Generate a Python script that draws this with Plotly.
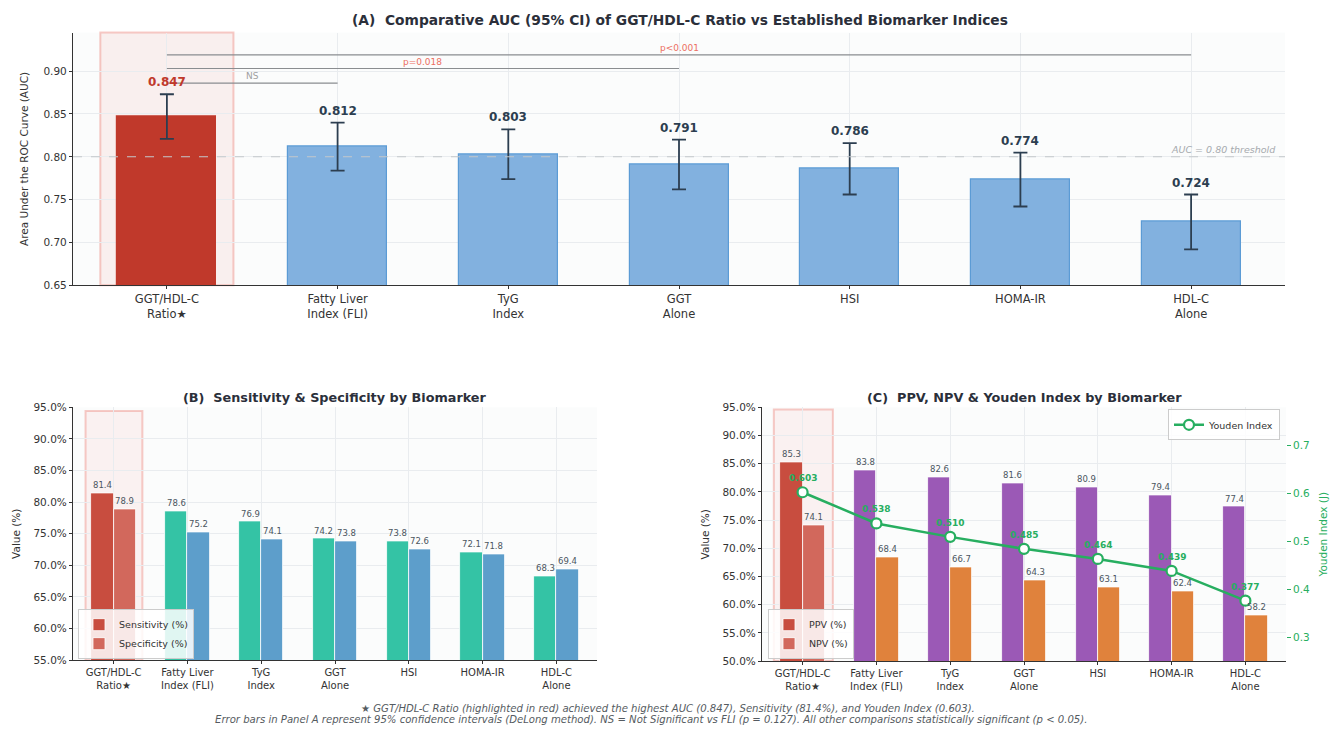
import plotly.graph_objects as go

# ---- data -------------------------------------------------------------
categories = ["GGT/HDL-C<br>Ratio★", "Fatty Liver<br>Index (FLI)", "TyG<br>Index",
              "GGT<br>Alone", "HSI", "HOMA-IR", "HDL-C<br>Alone"]
auc = [0.847, 0.812, 0.803, 0.791, 0.786, 0.774, 0.724]
auc_ci_low = [0.821, 0.784, 0.774, 0.762, 0.756, 0.742, 0.692]
auc_ci_high = [0.873, 0.840, 0.832, 0.820, 0.816, 0.805, 0.756]
sensitivity = [81.4, 78.6, 76.9, 74.2, 73.8, 72.1, 68.3]
specificity = [78.9, 75.2, 74.1, 73.8, 72.6, 71.8, 69.4]
ppv = [85.3, 83.8, 82.6, 81.6, 80.9, 79.4, 77.4]
npv = [74.1, 68.4, 66.7, 64.3, 63.1, 62.4, 58.2]
youden = [0.603, 0.538, 0.510, 0.485, 0.464, 0.439, 0.377]
# (from index, to index, bracket height, label)
comparisons = [(0, 1, 0.886, "NS"), (0, 3, 0.903, "p=0.018"), (0, 6, 0.919, "p<0.001")]
auc_threshold = 0.80
pct_ticks_b = [55, 60, 65, 70, 75, 80, 85, 90, 95]
pct_ticks_c = [50, 55, 60, 65, 70, 75, 80, 85, 90, 95]
auc_ticks = [0.65, 0.70, 0.75, 0.80, 0.85, 0.90]
youden_ticks = [0.3, 0.4, 0.5, 0.6, 0.7]

# ---- styling -----------------------------------------------------------
FONT = "DejaVu Sans"
RED = "#c0392b"
NAVY = "#2c3e50"
GREEN = "#27ae60"
GRID = "#e9ecef"
PLOT_BG = "#fbfcfc"
x = list(range(len(categories)))
n = len(categories)


def first_highlight(base, first):
    return [first] + [base] * (n - 1)


fig = go.Figure()

# ---- Panel A: AUC bars with 95% CI -----------------------------------
fig.add_trace(go.Bar(
    x=x, y=auc, xaxis="x", yaxis="y", width=0.58, offset=-0.29,
    marker=dict(color=first_highlight("#82b1df", RED),
                line=dict(color=first_highlight("#5b9bd5", RED), width=1.2)),
    error_y=dict(type="data", symmetric=False,
                 array=[h - a for h, a in zip(auc_ci_high, auc)],
                 arrayminus=[a - l for a, l in zip(auc, auc_ci_low)],
                 color=NAVY, thickness=1.8, width=7),
    showlegend=False, hoverinfo="skip"))

# ---- Panel B: sensitivity & specificity --------------------------------
fig.add_trace(go.Bar(
    x=x, y=sensitivity, xaxis="x2", yaxis="y3", width=0.3, offset=-0.3,
    name="Sensitivity (%)", legend="legend",
    marker=dict(color=first_highlight("#34c3a5", "#c84d3f"), line=dict(color="white", width=0.8))))
fig.add_trace(go.Bar(
    x=x, y=specificity, xaxis="x2", yaxis="y3", width=0.3, offset=0.0,
    name="Specificity (%)", legend="legend",
    marker=dict(color=first_highlight("#5d9ecb", "#d2685c"), line=dict(color="white", width=0.8))))

# ---- Panel C: PPV, NPV and Youden index --------------------------------
fig.add_trace(go.Bar(
    x=x, y=ppv, xaxis="x3", yaxis="y4", width=0.3, offset=-0.3,
    name="PPV (%)", legend="legend2",
    marker=dict(color=first_highlight("#9b59b6", "#c84d3f"), line=dict(color="white", width=0.8))))
fig.add_trace(go.Bar(
    x=x, y=npv, xaxis="x3", yaxis="y4", width=0.3, offset=0.0,
    name="NPV (%)", legend="legend2",
    marker=dict(color=first_highlight("#e0823c", "#d2685c"), line=dict(color="white", width=0.8))))
fig.add_trace(go.Scatter(
    x=x, y=youden, xaxis="x3", yaxis="y5", mode="lines+markers",
    name="Youden Index", legend="legend3",
    line=dict(color=GREEN, width=2.5),
    marker=dict(size=10, color="white", line=dict(color=GREEN, width=2.2))))

annotations = []
shapes = []

# highlight boxes behind the first category
shapes.append(dict(type="rect", xref="x", yref="y domain", x0=-0.39, x1=0.39, y0=0, y1=1,
                   fillcolor="rgba(231,76,60,0.07)", line=dict(color="rgba(231,76,60,0.28)", width=2),
                   layer="below"))
shapes.append(dict(type="rect", xref="x2", yref="y3", x0=-0.38, x1=0.39, y0=55, y1=94.4,
                   fillcolor="rgba(231,76,60,0.06)", line=dict(color="rgba(231,76,60,0.28)", width=2),
                   layer="below"))
shapes.append(dict(type="rect", xref="x3", yref="y4", x0=-0.39, x1=0.41, y0=50, y1=94.6,
                   fillcolor="rgba(231,76,60,0.06)", line=dict(color="rgba(231,76,60,0.28)", width=2),
                   layer="below"))

# AUC threshold
shapes.append(dict(type="line", xref="x domain", yref="y", x0=0, x1=1,
                   y0=auc_threshold, y1=auc_threshold,
                   line=dict(color="#c4c8cc", width=1.1, dash="dash")))
annotations.append(dict(xref="x domain", yref="y", x=0.994, y=auc_threshold,
                        text="<i>AUC = 0.80 threshold</i>", showarrow=False,
                        xanchor="right", yanchor="bottom", yshift=0,
                        font=dict(family=FONT, size=9.5, color="#a6aaae")))

# significance brackets
for i0, i1, level, label in comparisons:
    shapes.append(dict(type="line", xref="x", yref="y", x0=i0, x1=i1, y0=level, y1=level,
                       line=dict(color="#8a8d90", width=1.1)))
    annotations.append(dict(xref="x", yref="y", x=(i0 + i1) / 2, y=level, text=label,
                            showarrow=False, yanchor="bottom", yshift=0,
                            font=dict(family=FONT, size=9,
                                      color="#a0a0a0" if label == "NS" else "#ec6f62")))

# AUC value labels
for i, (a, hi) in enumerate(zip(auc, auc_ci_high)):
    annotations.append(dict(xref="x", yref="y", x=i, y=hi, text=f"<b>{a:.3f}</b>",
                            showarrow=False, yanchor="bottom", yshift=3,
                            font=dict(family=FONT, size=12, color=RED if i == 0 else NAVY)))

# bar value labels in panels B and C
small = dict(family=FONT, size=8.5, color="#4a5560")
for i in x:
    annotations.append(dict(xref="x2", yref="y3", x=i - 0.15, y=sensitivity[i], text=f"{sensitivity[i]:.1f}",
                            showarrow=False, yanchor="bottom", yshift=1, font=small))
    annotations.append(dict(xref="x2", yref="y3", x=i + 0.15, y=specificity[i], text=f"{specificity[i]:.1f}",
                            showarrow=False, yanchor="bottom", yshift=1, font=small))
    annotations.append(dict(xref="x3", yref="y4", x=i - 0.15, y=ppv[i], text=f"{ppv[i]:.1f}",
                            showarrow=False, yanchor="bottom", yshift=1, font=small))
    annotations.append(dict(xref="x3", yref="y4", x=i + 0.15, y=npv[i], text=f"{npv[i]:.1f}",
                            showarrow=False, yanchor="bottom", yshift=1, font=small))
    annotations.append(dict(xref="x3", yref="y5", x=i, y=youden[i], text=f"<b>{youden[i]:.3f}</b>",
                            showarrow=False, yanchor="bottom", yshift=7,
                            font=dict(family=FONT, size=9, color=GREEN)))

# panel titles
title_color = "#2b2f3a"
annotations.append(dict(xref="paper", yref="paper", x=680 / 1338, y=1 - 14 / 734, xanchor="center",
                        text="<b>(A)  Comparative AUC (95% CI) of GGT/HDL-C Ratio vs Established Biomarker Indices</b>",
                        showarrow=False, yanchor="middle", font=dict(family=FONT, size=13.8, color=title_color)))
annotations.append(dict(xref="paper", yref="paper", x=335 / 1338, y=1 - 398 / 734, xanchor="center",
                        text="<b>(B)  Sensitivity & Specificity by Biomarker</b>",
                        showarrow=False, yanchor="middle", font=dict(family=FONT, size=12.8, color=title_color)))
annotations.append(dict(xref="paper", yref="paper", x=1024 / 1338, y=1 - 398 / 734, xanchor="center",
                        text="<b>(C)  PPV, NPV & Youden Index by Biomarker</b>",
                        showarrow=False, yanchor="middle", font=dict(family=FONT, size=12.8, color=title_color)))

# footnotes
foot = dict(family=FONT, size=10.1, color="#555b61")
annotations.append(dict(xref="paper", yref="paper", x=668 / 1338, y=1 - 714 / 734, xanchor="center",
                        text="<i>★ GGT/HDL-C Ratio (highlighted in red) achieved the highest AUC (0.847), "
                             "Sensitivity (81.4%), and Youden Index (0.603).</i>",
                        showarrow=False, yanchor="middle", font=foot))
annotations.append(dict(xref="paper", yref="paper", x=651 / 1338, y=1 - 725 / 734, xanchor="center",
                        text="<i>Error bars in Panel A represent 95% confidence intervals (DeLong method). "
                             "NS = Not Significant vs FLI (p = 0.127). All other comparisons statistically "
                             "significant (p < 0.05).</i>",
                        showarrow=False, yanchor="middle", font=foot))

tick_font = dict(family=FONT, size=10.5, color="#333")
cat_axis = dict(tickmode="array", tickvals=x, ticktext=categories, range=[-0.55, 6.55],
                showgrid=True, gridcolor=GRID, gridwidth=1, showline=True, linecolor="#333",
                linewidth=1.2, ticks="outside", ticklen=3, tickcolor="#333", zeroline=False,
                tickfont=dict(family=FONT, size=10, color="#333"))
val_axis = dict(showgrid=True, gridcolor=GRID, gridwidth=1, showline=True, linecolor="#333",
                linewidth=1.2, ticks="outside", ticklen=3, tickcolor="#333", zeroline=False,
                tickfont=tick_font)

legend_common = dict(font=dict(family=FONT, size=9.5, color="#333"), bgcolor="rgba(255,255,255,0.85)",
                     bordercolor="#cccccc", borderwidth=1, itemwidth=30, tracegroupgap=0)

fig.update_layout(
    width=1338, height=734, margin=dict(l=0, r=0, t=0, b=0),
    paper_bgcolor="white", plot_bgcolor=PLOT_BG,
    font=dict(family=FONT, color="#333"),
    barmode="overlay", bargap=0,
    xaxis=dict(cat_axis, domain=[73 / 1338, 1285 / 1338], anchor="y",
               tickfont=dict(family=FONT, size=11.5, color="#333")),
    yaxis=dict(val_axis, domain=[1 - 284 / 734, 1 - 27 / 734], anchor="x", range=[0.65, 0.945],
               tickmode="array", tickvals=auc_ticks, ticktext=[f"{v:.2f}" for v in auc_ticks],
               title=dict(text="Area Under the ROC Curve (AUC)", font=dict(family=FONT, size=10.5, color="#333"),
                          standoff=12)),
    xaxis2=dict(cat_axis, domain=[73 / 1338, 597 / 1338], anchor="y3"),
    yaxis3=dict(val_axis, domain=[1 - 665 / 734, 1 - 408 / 734], anchor="x2", range=[55, 95],
                tickmode="array", tickvals=pct_ticks_b, ticktext=[f"{v:.1f}%" for v in pct_ticks_b],
                title=dict(text="Value (%)", font=dict(family=FONT, size=10.5, color="#333"), standoff=10)),
    xaxis3=dict(cat_axis, domain=[762 / 1338, 1286 / 1338], anchor="y4"),
    yaxis4=dict(val_axis, domain=[1 - 666 / 734, 1 - 408 / 734], anchor="x3", range=[50, 95],
                tickmode="array", tickvals=pct_ticks_c, ticktext=[f"{v:.1f}%" for v in pct_ticks_c],
                title=dict(text="Value (%)", font=dict(family=FONT, size=10.5, color="#333"), standoff=10)),
    yaxis5=dict(overlaying="y4", side="right", anchor="x3", range=[0.251, 0.78],
                tickmode="array", tickvals=youden_ticks, ticktext=[f"{v:.1f}" for v in youden_ticks],
                showgrid=False, zeroline=False, showline=False,
                ticks="outside", ticklen=4, tickcolor=GREEN,
                tickfont=dict(family=FONT, size=10.5, color=GREEN),
                title=dict(text="Youden Index (J)", font=dict(family=FONT, size=10.5, color=GREEN), standoff=10)),
    legend=dict(legend_common, x=78 / 1338, y=1 - 664 / 734, xanchor="left", yanchor="bottom"),
    legend2=dict(legend_common, x=768 / 1338, y=1 - 664 / 734, xanchor="left", yanchor="bottom"),
    legend3=dict(legend_common, x=1280 / 1338, y=1 - 410 / 734, xanchor="right", yanchor="top"),
    shapes=shapes, annotations=annotations,
)

fig.write_html("out.html")
